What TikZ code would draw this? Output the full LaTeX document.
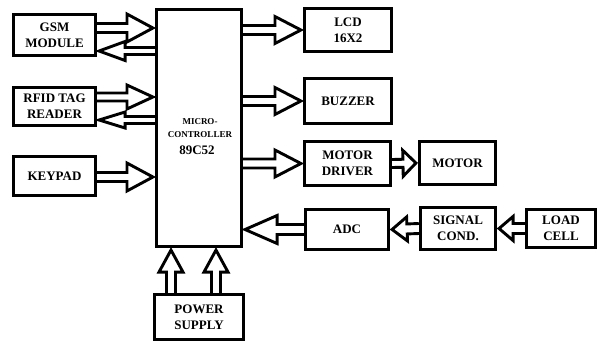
\documentclass[tikz,border=0pt]{standalone}
\usepackage{fontspec}
\setmainfont{Liberation Serif}
\usetikzlibrary{calc}
\begin{document}
\begin{tikzpicture}[x=1pt,y=-1pt,
  box/.style={draw, line width=3.1pt, inner sep=0pt, align=center,
    font=\bfseries\fontsize{13}{16}\selectfont},
  lbl/.style={inner sep=0pt, align=center},
  fat/.style n args={3}{line width=2.9pt, line join=miter, miter limit=10,
    to path={let \p1=(\tikztostart), \p2=(\tikztotarget),
      \n1={atan2(\y2-\y1,\x2-\x1)}, \n2={veclen(\x2-\x1,\y2-\y1)} in
      {[shift={(\p1)}, rotate=\n1]
        (0pt,#1) -- (\n2-#3,#1) -- (\n2-#3,#2) -- (\n2,0pt)
        -- (\n2-#3,-#2) -- (\n2-#3,-#1) -- (0pt,-#1)}}},
]
\useasboundingbox (0,0) rectangle (597,343);

% blocks
\node[box, minimum width=82pt, minimum height=41pt] (gsm) at (54.5,35) {GSM\\MODULE};
\node[box, minimum width=82pt, minimum height=38pt] (rfid) at (54.5,106.5) {RFID TAG\\READER};
\node[box, minimum width=82pt, minimum height=39pt] (key) at (54.5,176) {KEYPAD};
\node[box, minimum width=85pt, minimum height=237pt] (mcu) at (199,128) {};
\node[lbl, font=\bfseries\fontsize{9}{11}\selectfont] (mcu1) at (200,122) {MICRO-};
\node[lbl, font=\bfseries\fontsize{9}{11}\selectfont] (mcu2) at (200,135) {CONTROLLER};
\node[lbl, font=\bfseries\fontsize{13}{15}\selectfont] (mcu3) at (197,150) {89C52};
\node[box, minimum width=87pt, minimum height=43pt] (lcd) at (348,30) {LCD\\16X2};
\node[box, minimum width=87pt, minimum height=45pt] (buz) at (348,101) {BUZZER};
\node[box, minimum width=86pt, minimum height=44pt] (md) at (347.5,163.5) {MOTOR\\DRIVER};
\node[box, minimum width=76pt, minimum height=43pt] (mot) at (457.5,163) {MOTOR};
\node[box, minimum width=83pt, minimum height=40pt] (adc) at (347,229.5) {ADC};
\node[box, minimum width=75pt, minimum height=42pt] (sig) at (458,228.5) {SIGNAL\\COND.};
\node[box, minimum width=69pt, minimum height=38pt] (load) at (561,228.5) {LOAD\\CELL};
\node[box, minimum width=89pt, minimum height=45pt] (pow) at (199,317) {POWER\\SUPPLY};

% left side arrows
\draw[fat={4.5pt}{14pt}{26pt}] ([yshift=7pt]gsm.east) to ([yshift=7pt,xshift=-2pt]gsm.east -| mcu.west);
\draw[fat={3.5pt}{9.5pt}{26pt}] ([yshift=-16pt]gsm.east -| mcu.west) to ([yshift=-16pt,xshift=2pt]gsm.east);
\draw[fat={4pt}{12pt}{26pt}] ([yshift=9.5pt]rfid.east) to ([yshift=9.5pt,xshift=-2pt]rfid.east -| mcu.west);
\draw[fat={3.5pt}{8pt}{26pt}] ([yshift=-13.5pt]rfid.east -| mcu.west) to ([yshift=-13.5pt,xshift=2pt]rfid.east);
\draw[fat={4.5pt}{14pt}{26pt}] ([yshift=-1pt]key.east) to ([yshift=-1pt,xshift=-2pt]key.east -| mcu.west);

% right side arrows
\draw[fat={4.5pt}{13.5pt}{26pt}] (lcd.west -| mcu.east) to ([xshift=-2pt]lcd.west);
\draw[fat={4.5pt}{13.5pt}{26pt}] (buz.west -| mcu.east) to ([xshift=-2pt]buz.west);
\draw[fat={4.5pt}{13.5pt}{26pt}] (md.west -| mcu.east) to ([xshift=-2pt]md.west);
\draw[fat={4pt}{13pt}{13pt}] (md.east) to ([xshift=-2pt]mot.west);
\draw[fat={5pt}{14pt}{32pt}] (adc.west) to ([xshift=2pt]adc.west -| mcu.east);
\draw[fat={5pt}{12pt}{15pt}] (sig.west) to ([xshift=2pt]adc.east);
\draw[fat={5pt}{12pt}{14pt}] (load.west) to ([xshift=2pt]sig.east);

% power arrows
\draw[fat={4.5pt}{12pt}{22pt}] ([xshift=-28pt]pow.north) to ([xshift=-28pt,yshift=-2pt]pow.north |- mcu.south);
\draw[fat={4.5pt}{12pt}{22pt}] ([xshift=17pt]pow.north) to ([xshift=17pt,yshift=-2pt]pow.north |- mcu.south);
\end{tikzpicture}
\end{document}
